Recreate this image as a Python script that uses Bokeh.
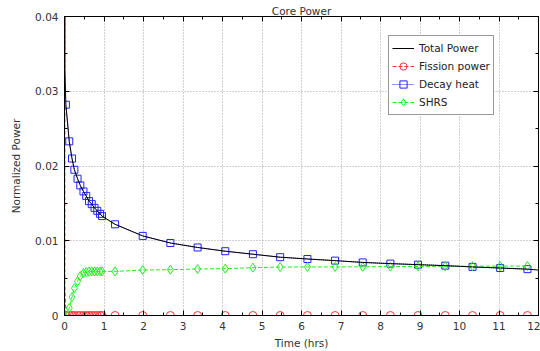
from bokeh.plotting import figure
from bokeh.models import (Range1d, FixedTicker, LinearAxis, Legend, LegendItem)
from bokeh.embed import file_html
from bokeh.resources import INLINE

# ---- data ----
t_marks = [0.035, 0.12, 0.19, 0.25, 0.33, 0.40, 0.48, 0.55, 0.62, 0.69, 0.76, 0.83,
           0.90, 0.95, 1.28, 1.98, 2.68, 3.37, 4.07, 4.77, 5.46, 6.15, 6.85, 7.55,
           8.25, 8.95, 9.64, 10.33, 11.03, 11.72]
decay_heat = [0.0282, 0.0233, 0.0210, 0.0195, 0.0183, 0.0174, 0.0166, 0.0160, 0.0153,
              0.0149, 0.0144, 0.0140, 0.0136, 0.0133, 0.0122, 0.01065, 0.0097, 0.0091,
              0.0086, 0.0082, 0.0078, 0.00756, 0.00734, 0.0071, 0.00694, 0.0068,
              0.00667, 0.0065, 0.00635, 0.0062]
fission_power = [0.0] * len(t_marks)

t_early = [0.0, 0.01]
total_early = [1.06, 0.0329]
fission_early = [1.0, 0.0042]

t_total = t_early + t_marks + [12.0]
total_power = total_early + decay_heat + [0.00608]

t_shrs = [0.0, 0.12, 0.19, 0.25, 0.33, 0.40, 0.48, 0.55, 0.62, 0.69, 0.76, 0.83, 0.90,
          0.95, 1.28, 1.98, 2.68, 3.37, 4.07, 4.77, 5.46, 6.15, 6.85, 7.55, 8.25, 8.95,
          9.64, 10.33, 11.03, 11.72]
shrs = [0.0, 0.0010, 0.00246, 0.00366, 0.00456, 0.00528, 0.00568, 0.00581, 0.00587,
        0.0059, 0.0059, 0.0059, 0.0059, 0.0059, 0.0059, 0.00608, 0.00613, 0.00622,
        0.00627, 0.0064, 0.00648, 0.0065, 0.0065, 0.00652, 0.00654, 0.00656, 0.00658,
        0.0066, 0.0066, 0.00662]

x_ticks = list(range(0, 13))
y_ticks = [0.0, 0.01, 0.02, 0.03, 0.04]
y_tick_labels = ["0", "0.01", "0.02", "0.03", "0.04"]
title_text = "Core Power"

FONT = "DejaVu Sans"
FS = "10.5px"

p = figure(width=540, height=351, output_backend="svg", toolbar_location=None,
           x_range=Range1d(0, 12), y_range=Range1d(0, 0.04),
           min_border_left=64, min_border_right=2, min_border_top=16,
           min_border_bottom=36, title=title_text)
p.background_fill_color = "white"
p.border_fill_color = "white"
p.outline_line_color = "black"

p.title.text_font = FONT
p.title.text_font_size = FS
p.title.text_font_style = "normal"
p.title.text_color = "#333333"
p.title.align = "center"
p.title.standoff = 0
p.title.text_line_height = 0.3

xt = FixedTicker(ticks=x_ticks, minor_ticks=[i * 0.5 for i in range(25)])
yt = FixedTicker(ticks=y_ticks, minor_ticks=[i * 0.005 for i in range(9)])
p.xaxis.ticker = xt
p.yaxis.ticker = yt
p.yaxis.major_label_overrides = {v: s for v, s in zip(y_ticks, y_tick_labels)}

for ax in (p.xaxis[0], p.yaxis[0]):
    ax.major_tick_in = 5
    ax.major_tick_out = 0
    ax.minor_tick_in = 3
    ax.minor_tick_out = 0
    ax.axis_line_color = "black"
    ax.major_tick_line_color = "black"
    ax.minor_tick_line_color = "black"
    ax.major_label_text_font = FONT
    ax.major_label_text_font_size = FS
    ax.major_label_text_color = "#333333"
    ax.axis_label_text_font = FONT
    ax.axis_label_text_font_size = FS
    ax.axis_label_text_font_style = "normal"
    ax.axis_label_text_color = "#333333"
    ax.major_label_standoff = 6

p.xaxis.axis_label = "Time (hrs)"
p.yaxis.axis_label = "Normalized Power"
p.xaxis.axis_label_standoff = 4
p.yaxis.axis_label_standoff = 10

for loc, tk, ticks in (("right", yt, y_ticks), ("above", xt, x_ticks)):
    ax = LinearAxis(ticker=tk, major_label_standoff=0, major_label_text_font_size="1px",
                    major_label_overrides={v: "" for v in ticks},
                    major_tick_in=5, major_tick_out=0, minor_tick_in=3, minor_tick_out=0,
                    axis_line_color="black")
    p.add_layout(ax, loc)

p.xgrid.grid_line_color = "#a0a0a0"
p.ygrid.grid_line_color = "#a0a0a0"
p.xgrid.grid_line_dash = "1 2"
p.ygrid.grid_line_dash = "1 2"

RED = "#ff3333"
BLUE = "#2222ff"
GREEN = "#22ee22"

f_line = p.line(t_early + t_marks, fission_early + fission_power, line_color=RED,
                line_dash="4 2", line_width=1)
f_pts = p.scatter(t_marks, fission_power, marker="circle", size=8, line_color=RED,
                  fill_color=None, line_width=1)
d_line = p.line(t_marks, decay_heat, line_color=BLUE, line_dash="1 1", line_width=1)
d_pts = p.scatter(t_marks, decay_heat, marker="square", size=7, line_color=BLUE,
                  fill_color=None, line_width=1)
s_line = p.line(t_shrs, shrs, line_color=GREEN, line_dash="4 2", line_width=1)
s_pts = p.scatter(t_shrs, shrs, marker="diamond", size=9, line_color=GREEN,
                  fill_color=None, line_width=1)
tot = p.line(t_total, total_power, line_color="black", line_width=1)

legend = Legend(items=[
    LegendItem(label="Total Power", renderers=[tot]),
    LegendItem(label="Fission power", renderers=[f_line, f_pts]),
    LegendItem(label="Decay heat", renderers=[d_line, d_pts]),
    LegendItem(label="SHRS", renderers=[s_line, s_pts]),
], location=(324, 200))
legend.label_text_font = FONT
legend.label_text_font_size = FS
legend.label_text_color = "#222222"
legend.label_height = 18
legend.glyph_height = 18
legend.glyph_width = 22
legend.spacing = 0
legend.padding = 3
legend.margin = 0
legend.label_standoff = 5
legend.border_line_color = "#333333"
legend.background_fill_alpha = 1
p.add_layout(legend, "center")

open("out.html", "w").write(file_html(p, INLINE))
